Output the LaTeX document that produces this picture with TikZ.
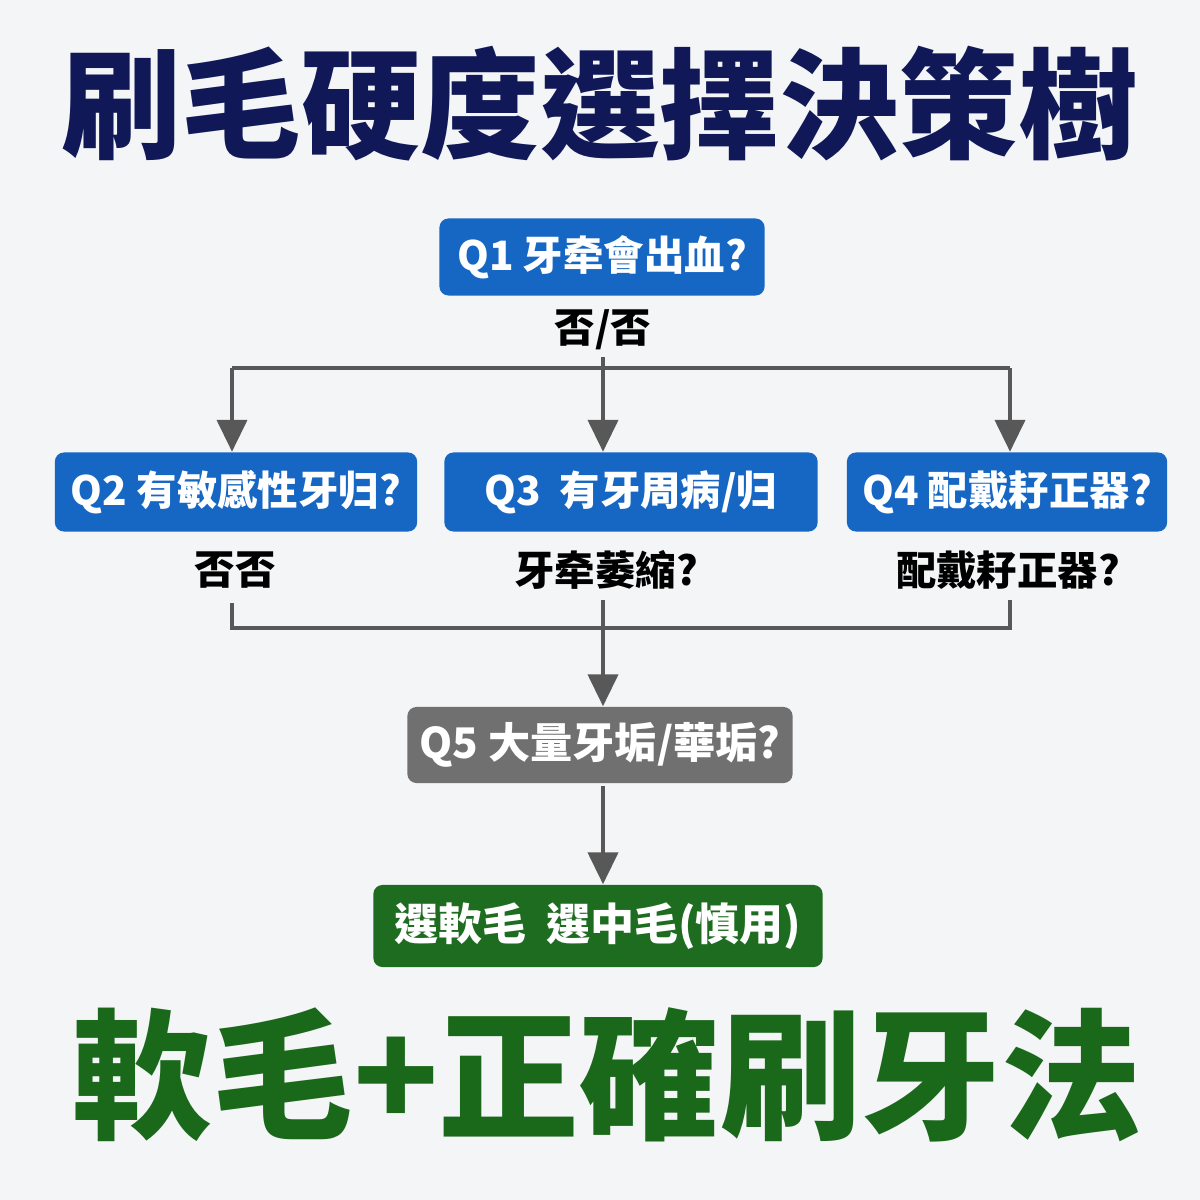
\documentclass[tikz,border=0pt]{standalone}
\usepackage{fontspec}
\setmainfont{Noto Sans CJK TC}
\usetikzlibrary{arrows.meta,positioning}
\definecolor{navy}{RGB}{16,24,88}
\definecolor{qblue}{RGB}{22,102,196}
\definecolor{qgray}{RGB}{112,112,112}
\definecolor{qgreen}{RGB}{30,108,32}
\definecolor{tgreen}{RGB}{26,104,26}
\definecolor{wire}{RGB}{88,88,88}
\definecolor{paper}{RGB}{243,245,246}
\tikzset{
  qbox/.style={rounded corners=0.09cm, inner sep=0pt, text=white,
    font=\bfseries\fontsize{11.5}{12}\selectfont, minimum height=0.77cm},
  lbl/.style={inner sep=1pt, font=\bfseries\fontsize{11.5}{12}\selectfont},
  link/.style={draw=wire, line width=1.2pt},
  arr/.style={link, -{Triangle[width=0.3cm,length=0.32cm]}}
}

\begin{document}
\begin{tikzpicture}[x=0.01cm,y=-0.01cm]
			\fill[paper] (0,0) rectangle (1200,1200);
			\useasboundingbox (0,0) rectangle (1200,1200);
			% titles
			\node[text=navy, font=\bfseries\fontsize{34}{36}\selectfont] (title) at (600,104) {刷毛硬度選擇決策樹};
			\node[text=tgreen, font=\bfseries\fontsize{40}{42}\selectfont] (slogan) at (607,1075) {軟毛+正確刷牙法};
			% questions
			\node[qbox, fill=qblue, minimum width=3.25cm] (q1) at (602,257) {Q1 牙牵會出血?};
			\node[lbl] (l1) at (603,330) {否/否};
			\node[qbox, fill=qblue, minimum width=3.62cm, minimum height=0.79cm] (q2) at (236,492) {Q2 有敏感性牙归?};
			\node[qbox, fill=qblue, minimum width=3.73cm, minimum height=0.79cm] (q3) at (631,492) {Q3\ \ 有牙周病/归\hspace{0.45cm}};
			\node[qbox, fill=qblue, minimum width=3.20cm, minimum height=0.79cm] (q4) at (1007,492) {Q4 配戴耔正器?};
			\node[lbl] (l2) at (235,570) {否否};
			\node[lbl] (l3) at (606,570) {牙牵萎縮?};
			\node[lbl] (l4) at (1008,570) {配戴耔正器?};
			\node[qbox, fill=qgray, minimum width=3.85cm, minimum height=0.76cm, font=\bfseries\fontsize{12}{13}\selectfont] (q5) at (600,745) {Q5 大量牙垢/華垢?};
			\node[qbox, fill=qgreen, minimum width=4.49cm, minimum height=0.82cm, font=\bfseries\fontsize{12.5}{13}\selectfont] (res) at (598,926) {選軟毛\ \ 選中毛(慎用)};
			% branching
			\coordinate (bl) at (232,368);
			\coordinate (br) at (1010,368);
			\draw[link] (bl) -- (br);
			\draw[arr] (603,357) -- (603,0 |- q3.north);
			\draw[arr] (bl) -- (bl |- q2.north);
			\draw[arr] (br) -- (br |- q4.north);
			% merging
			\coordinate (ml) at (232,603);
			\coordinate (mr) at (1010,600);
			\coordinate (mc) at (603,628);
			\draw[link] (ml) -- (232,628) -- (1010,628) -- (mr);
			\draw[arr] (603,600) -- (mc |- q5.north);
			\draw[arr] (603,786) -- (603,0 |- res.north);
		\end{tikzpicture}
\end{document}
